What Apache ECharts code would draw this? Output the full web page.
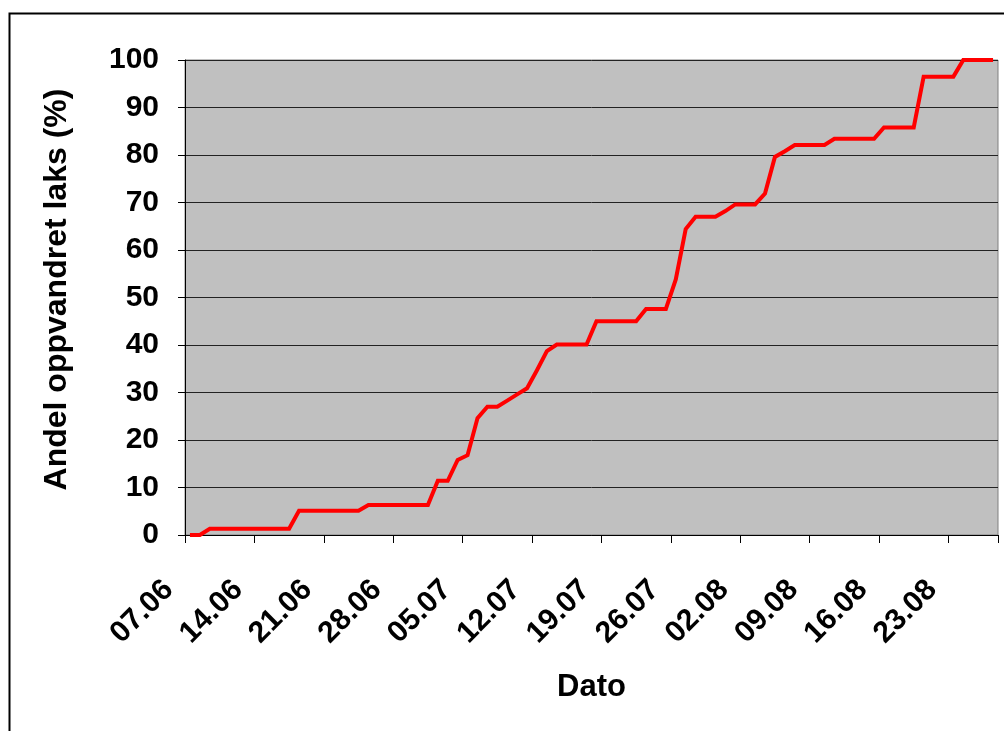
<!DOCTYPE html>
<html>
<head>
<meta charset="utf-8">
<title>Andel oppvandret laks</title>
<script src="https://cdn.jsdelivr.net/npm/echarts@6/dist/echarts.min.js"></script>
<style>
  html, body { margin: 0; padding: 0; background: #ffffff; }
  #chart { width: 1004px; height: 731px; }
</style>
</head>
<body>
<div id="chart"></div>
<script>
// Daily dates, 07.06 – 27.08
const dates = [
  '07.06','08.06','09.06','10.06','11.06','12.06','13.06','14.06','15.06','16.06',
  '17.06','18.06','19.06','20.06','21.06','22.06','23.06','24.06','25.06','26.06',
  '27.06','28.06','29.06','30.06',
  '01.07','02.07','03.07','04.07','05.07','06.07','07.07','08.07','09.07','10.07',
  '11.07','12.07','13.07','14.07','15.07','16.07','17.07','18.07','19.07','20.07',
  '21.07','22.07','23.07','24.07','25.07','26.07','27.07','28.07','29.07','30.07','31.07',
  '01.08','02.08','03.08','04.08','05.08','06.08','07.08','08.08','09.08','10.08',
  '11.08','12.08','13.08','14.08','15.08','16.08','17.08','18.08','19.08','20.08',
  '21.08','22.08','23.08','24.08','25.08','26.08','27.08'
];

// Cumulative share of ascended salmon (%)
const cumulativeShare = [
  0, 0,
  1.3, 1.3, 1.3, 1.3, 1.3, 1.3, 1.3, 1.3, 1.3,
  5.1, 5.1, 5.1, 5.1, 5.1, 5.1, 5.1,
  6.3, 6.3, 6.3, 6.3, 6.3, 6.3, 6.3,
  11.4, 11.4,
  15.8, 16.8, 24.6, 27.0, 27.0, 28.3, 29.6, 30.9, 34.7, 38.7,
  40.1, 40.1, 40.1, 40.1,
  45.0, 45.0, 45.0, 45.0, 45.0,
  47.6, 47.6, 47.6,
  53.8, 64.4,
  67.0, 67.0, 67.0,
  68.2,
  69.6, 69.6, 69.6,
  71.9, 79.6, 80.8,
  82.1, 82.1, 82.1, 82.1,
  83.4, 83.4, 83.4, 83.4, 83.4,
  85.8, 85.8, 85.8, 85.8,
  96.5, 96.5, 96.5, 96.5,
  100, 100, 100, 100
];

const yTicks = { min: 0, max: 100, step: 10 };

const FONT = '"Liberation Sans", Arial, sans-serif';

const chart = echarts.init(document.getElementById('chart'), null, { renderer: 'canvas' });

chart.setOption({
  backgroundColor: '#ffffff',
  animation: false,
  graphic: [{
    type: 'rect',
    left: 7, top: 11,
    shape: { width: 1200, height: 1000 },
    style: { fill: 'none', stroke: '#000000', lineWidth: 2 },
    z: 100, silent: true
  }],
  grid: {
    left: 185, right: 6, top: 60, bottom: 196,
    show: true,
    backgroundColor: '#C0C0C0',
    borderColor: '#808080',
    borderWidth: 1
  },
  xAxis: {
    type: 'category',
    data: dates,
    boundaryGap: true,
    name: 'Dato',
    nameLocation: 'middle',
    nameGap: 137,
    nameTextStyle: { fontFamily: FONT, fontWeight: 'bold', fontSize: 31, color: '#000' },
    axisLine: { show: true, lineStyle: { color: '#000000', width: 1 } },
    axisTick: { show: true, interval: 6, length: 8, lineStyle: { color: '#000000' } },
    axisLabel: {
      interval: 6,
      rotate: 45,
      margin: 29,
      padding: [0, 30, 0, 0],
      fontFamily: FONT, fontWeight: 'bold', fontSize: 30, color: '#000'
    },
    splitLine: { show: false }
  },
  yAxis: {
    type: 'value',
    min: yTicks.min, max: yTicks.max, interval: yTicks.step,
    name: 'Andel oppvandret laks (%)',
    nameLocation: 'middle',
    nameGap: 112,
    nameRotate: 90,
    nameTextStyle: {
      fontFamily: FONT, fontWeight: 'bold', fontSize: 32, color: '#000',
      padding: [0, 0, 0, 16]
    },
    axisLine: { show: true, lineStyle: { color: '#000000', width: 1 } },
    axisTick: { show: true, length: 7, lineStyle: { color: '#000000' } },
    axisLabel: {
      margin: 26,
      fontFamily: FONT, fontWeight: 'bold', fontSize: 30, color: '#000'
    },
    splitLine: { show: true, lineStyle: { color: '#222222', width: 1 } }
  },
  series: [{
    type: 'line',
    data: cumulativeShare,
    showSymbol: false,
    symbol: 'none',
    lineStyle: { color: '#FF0000', width: 4, join: 'miter' },
    z: 5
  }]
});
</script>
</body>
</html>
